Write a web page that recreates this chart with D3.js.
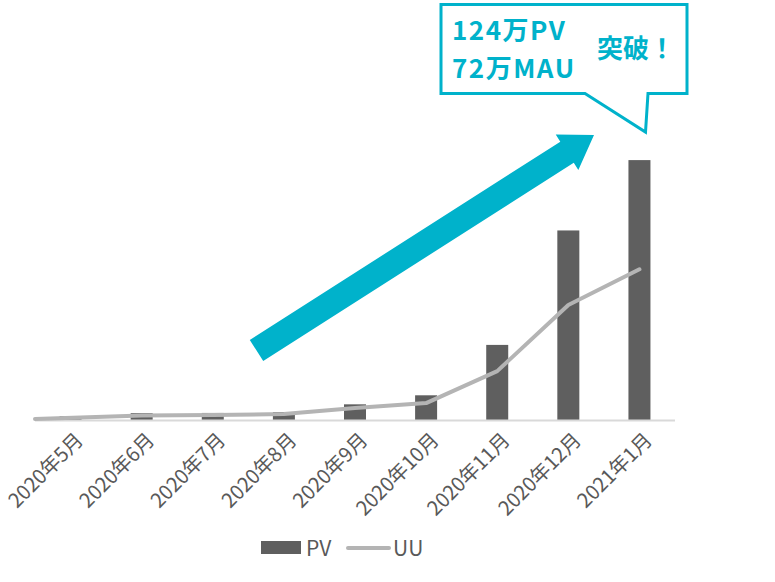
<!DOCTYPE html>
<html>
<head>
<meta charset="utf-8">
<script src="https://cdn.jsdelivr.net/npm/d3@7/dist/d3.min.js"></script>
<style>
  html, body { margin: 0; padding: 0; background: #ffffff; }
  svg { display: block; }
  text { font-family: "Noto Sans CJK JP", "Noto Sans", sans-serif; }
</style>
</head>
<body>
<svg id="chart" width="775" height="582"></svg>
<script>
// ---- data (単位: 万) ----
const categories = ["2020年5月","2020年6月","2020年7月","2020年8月","2020年9月","2020年10月","2020年11月","2020年12月","2021年1月"];
const pvValues = [2.0, 3.5, 3.6, 4.0, 7.7, 12.0, 36.0, 90.5, 124.0];
const uuValues = [0.7, 2.4, 2.6, 3.1, 6.0, 8.3, 23.5, 55.0, 72.0];
const legendLabels = ["PV", "UU"];
const calloutLines = ["124万PV", "72万MAU"];
const calloutTail = "突破！";

const svg = d3.select("#chart");
const plot = { left: 35, right: 675, bottom: 420.5 };

const x = d3.scaleBand().domain(categories).range([plot.left, plot.right]).padding(0);
const y = d3.scaleLinear().domain([0, 140]).range([plot.bottom, plot.bottom - 140 * 2.1]);
const barW = 22;
const cx = c => x(c) + x.bandwidth() / 2;

// bars
svg.append("g").selectAll("rect")
  .data(categories)
  .join("rect")
  .attr("x", c => cx(c) - barW / 2)
  .attr("y", (c, i) => y(pvValues[i]))
  .attr("width", barW)
  .attr("height", (c, i) => y(0) - y(pvValues[i]))
  .attr("fill", "#5f5f5f");

// axis line
const xAxis = d3.axisBottom(x).tickSize(0).tickFormat("");
const gx = svg.append("g").attr("transform", `translate(0,${plot.bottom})`).call(xAxis);
gx.select(".domain").attr("stroke", "#d9d9d9").attr("stroke-width", 2)
  .attr("d", `M${plot.left},0H${plot.right}`);

// tick labels
svg.append("g").selectAll("text")
  .data(categories)
  .join("text")
  .attr("transform", c => `translate(${cx(c) + 9},${plot.bottom + 16}) rotate(-45)`)
  .attr("text-anchor", "end")
  .attr("dy", "0.35em")
  .attr("font-size", 20)
  .attr("fill", "#595959")
  .text(c => c);

// UU line (first point starts at the axis origin edge)
const line = d3.line()
  .x((d, i) => i === 0 ? x(categories[0]) : cx(categories[i]))
  .y(d => y(d));
svg.append("path")
  .datum(uuValues)
  .attr("d", line)
  .attr("fill", "none")
  .attr("stroke", "#b4b4b4")
  .attr("stroke-width", 4)
  .attr("stroke-linecap", "round")
  .attr("stroke-linejoin", "round");

// big cyan arrow
const cyan = "#00b2cb";
const tail = [256.5, 350.5], tip = [594, 135];
const ang = Math.atan2(tip[1] - tail[1], tip[0] - tail[0]) * 180 / Math.PI;
const len = Math.hypot(tip[0] - tail[0], tip[1] - tail[1]);
const shaftHalf = 12.5, headHalf = 21, headLen = 32;
svg.append("path")
  .attr("transform", `translate(${tail[0]},${tail[1]}) rotate(${ang})`)
  .attr("d", `M0,${-shaftHalf}L${len - headLen},${-shaftHalf}L${len - headLen},${-headHalf}L${len},0L${len - headLen},${headHalf}L${len - headLen},${shaftHalf}L0,${shaftHalf}Z`)
  .attr("fill", cyan);

// callout box
svg.append("path")
  .attr("d", "M441,4.5H687V93.5H648L645.5,132L585,93.5H441Z")
  .attr("fill", "#ffffff")
  .attr("stroke", cyan)
  .attr("stroke-width", 3)
  .attr("stroke-linejoin", "miter");

const ct = svg.append("g").attr("fill", cyan).attr("font-weight", "bold");
ct.selectAll("text.l")
  .data(calloutLines)
  .join("text")
  .attr("class", "l")
  .attr("x", 452)
  .attr("y", (d, i) => 40 + i * 38)
  .attr("font-size", 26)
  .attr("letter-spacing", 1.5)
  .attr("font-family", "'Noto Sans', 'Noto Sans CJK JP', sans-serif")
  .text(d => d);
ct.append("text")
  .attr("x", 597)
  .attr("y", 58)
  .attr("font-size", 26)
  .text(calloutTail);

// legend
const lg = svg.append("g");
lg.append("rect").attr("x", 261).attr("y", 541).attr("width", 40).attr("height", 13).attr("fill", "#5f5f5f");
lg.append("text").attr("x", 306).attr("y", 556).attr("font-size", 21).attr("fill", "#595959")
  .attr("font-family", "'Noto Sans', sans-serif").text(legendLabels[0]);
lg.append("line").attr("x1", 348).attr("x2", 389).attr("y1", 548).attr("y2", 548)
  .attr("stroke", "#b4b4b4").attr("stroke-width", 4).attr("stroke-linecap", "round");
lg.append("text").attr("x", 393).attr("y", 556).attr("font-size", 21).attr("fill", "#595959")
  .attr("font-family", "'Noto Sans', sans-serif").text(legendLabels[1]);
</script>
</body>
</html>
